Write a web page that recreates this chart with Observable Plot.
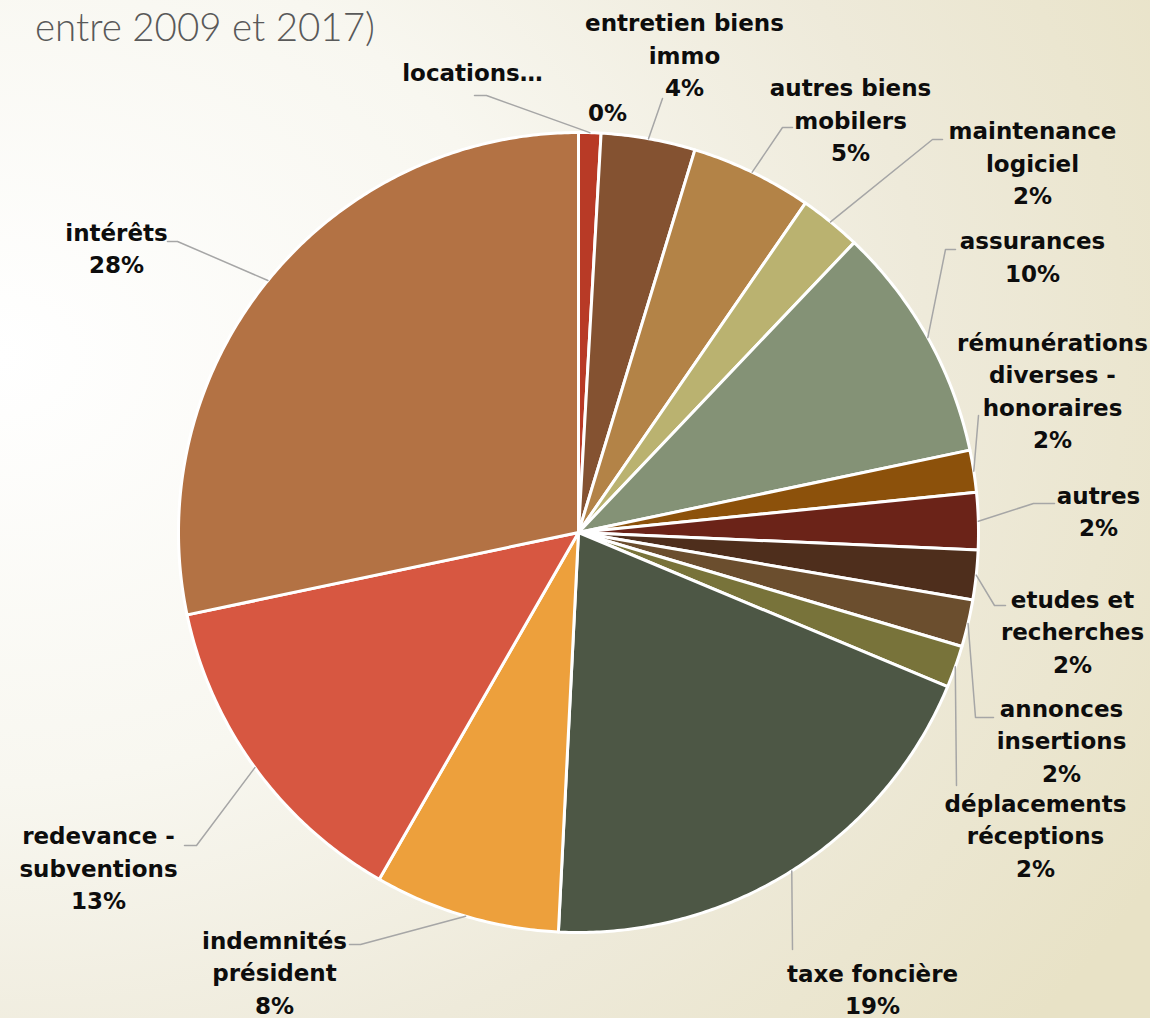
<!DOCTYPE html>
<html><head><meta charset="utf-8">
<script src="https://cdn.jsdelivr.net/npm/d3@7"></script>
<script src="https://cdn.jsdelivr.net/npm/@observablehq/plot@0.6"></script>
<style>
html,body{margin:0;padding:0;}
#wrap{position:relative;width:1150px;height:1018px;overflow:hidden;
 background: radial-gradient(ellipse 115% 105% at 0% 35%, #ffffff 0%, #f8f7f0 40%, #eeeada 70%, #e8e2c6 100%);}
#title{position:absolute;left:35px;top:7px;font-family:Lato, sans-serif;font-weight:300;font-size:38.5px;line-height:38.5px;color:#595959;white-space:nowrap;}
#chart{position:absolute;left:0;top:0;}
</style></head>
<body>
<div id="wrap"><div id="chart"></div><div id="title">entre 2009 et 2017)</div></div>
<script>
// ---- data ----
const categories = ["locations", "entretien biens immo", "autres biens mobilers", "maintenance logiciel",
  "assurances", "rémunérations diverses - honoraires", "autres", "etudes et recherches",
  "annonces insertions", "déplacements réceptions", "taxe foncière", "indemnités président",
  "redevance - subventions", "intérêts"];
const values = [0.9, 3.8, 4.9, 2.5, 9.6, 1.7, 2.3, 2.0, 1.9, 1.7, 19.5, 7.5, 13.4, 28.3];
const pctLabels = ["0%", "4%", "5%", "2%", "10%", "2%", "2%", "2%", "2%", "2%", "19%", "8%", "13%", "28%"];
const labelText = ["locations…", "entretien biens\nimmo", "autres biens\nmobilers", "maintenance\nlogiciel",
  "assurances", "rémunérations\ndiverses -\nhonoraires", "autres", "etudes et\nrecherches",
  "annonces\ninsertions", "déplacements\nréceptions", "taxe foncière", "indemnités\nprésident",
  "redevance -\nsubventions", "intérêts"];
const colors = ["#b83a26", "#845231", "#b38347", "#bab270", "#849276", "#8c510b", "#6b2318",
  "#4e2e1c", "#6b4e2e", "#78733a", "#4d5745", "#eda03c", "#d75741", "#b37244"];

// ---- layout (in pie-radius units, relative to pie centre) ----
const W = 1150, H = 1018, R = 400, CX = 578, CY = 532;
const labelPos = [[-0.265, 1.148], [0.265, 1.19], [0.68, 1.0275], [1.135, 0.92], [1.135, 0.686],
  [1.185, 0.351], [1.30, 0.049], [1.235, -0.251], [1.2075, -0.524], [1.1425, -0.761],
  [0.735, -1.145], [-0.76, -1.104], [-1.2, -0.8425], [-1.155, 0.7075]];
const pctSeparate = [[0.0725, 1.0475], null, null, null, null, null, null, null, null, null, null, null, null, null];
const leaderPts = [
  [[-0.23, 1.0925], [-0.26, 1.0925]],
  [[0.21, 1.085]],
  [[0.51, 1.0125], [0.535, 1.0125]],
  [[0.885, 0.9825], [0.91, 0.9825]],
  [[0.9175, 0.7075], [0.9425, 0.7075]],
  [[1.0, 0.2925]],
  [[1.1375, 0.0725], [1.19, 0.0725]],
  [[1.04, -0.1825], [1.0675, -0.1825]],
  [[0.9925, -0.4625], [1.0375, -0.4625]],
  [[0.945, -0.6325]],
  [[0.535, -1.0425]],
  [[-0.545, -1.03], [-0.5725, -1.03]],
  [[-0.955, -0.7825], [-0.985, -0.7825]],
  [[-1.0025, 0.7275], [-1.0275, 0.7275]]
];

// ---- derived geometry ----
const arcs = d3.pie().sort(null).value(d => d)(values);
const slices = [];
arcs.forEach((a, i) => {
  const n = Math.max(4, Math.ceil((a.endAngle - a.startAngle) / (Math.PI / 360)));
  slices.push({cat: categories[i], x: 0, y: 0});
  for (let k = 0; k <= n; k++) {
    const t = a.startAngle + (a.endAngle - a.startAngle) * k / n;
    slices.push({cat: categories[i], x: Math.sin(t), y: Math.cos(t)});
  }
});
const leaders = [];
arcs.forEach((a, i) => {
  const m = (a.startAngle + a.endAngle) / 2;
  leaders.push({id: i, x: Math.sin(m), y: Math.cos(m)});
  leaderPts[i].forEach(p => leaders.push({id: i, x: p[0], y: p[1]}));
});
const texts = [];
categories.forEach((c, i) => {
  if (pctSeparate[i]) {
    texts.push({x: labelPos[i][0], y: labelPos[i][1], t: labelText[i]});
    texts.push({x: pctSeparate[i][0], y: pctSeparate[i][1], t: pctLabels[i]});
  } else {
    texts.push({x: labelPos[i][0], y: labelPos[i][1], t: labelText[i] + "\n" + pctLabels[i]});
  }
});

const chart = Plot.plot({
  width: W, height: H,
  margin: 0,
  style: {background: "transparent", overflow: "visible"},
  x: {domain: [-CX / R, (W - CX) / R], axis: null},
  y: {domain: [-(H - CY) / R, CY / R], axis: null},
  color: {type: "ordinal", domain: categories, range: colors},
  marks: [
    Plot.line(slices, {x: "x", y: "y", z: "cat", fill: "cat", stroke: "white", strokeWidth: 3,
      curve: "linear-closed", strokeLinejoin: "round"}),
    Plot.line(leaders, {x: "x", y: "y", z: "id", stroke: "#a6a6a6", strokeWidth: 1.5}),
    Plot.text(texts, {x: "x", y: "y", text: "t", fontSize: 23, fontWeight: "bold", dy: -3,
      fontFamily: "DejaVu Sans", lineHeight: 1.41, fill: "#0d0d0d"})
  ]
});
document.getElementById("chart").appendChild(chart);
</script>
</body></html>
